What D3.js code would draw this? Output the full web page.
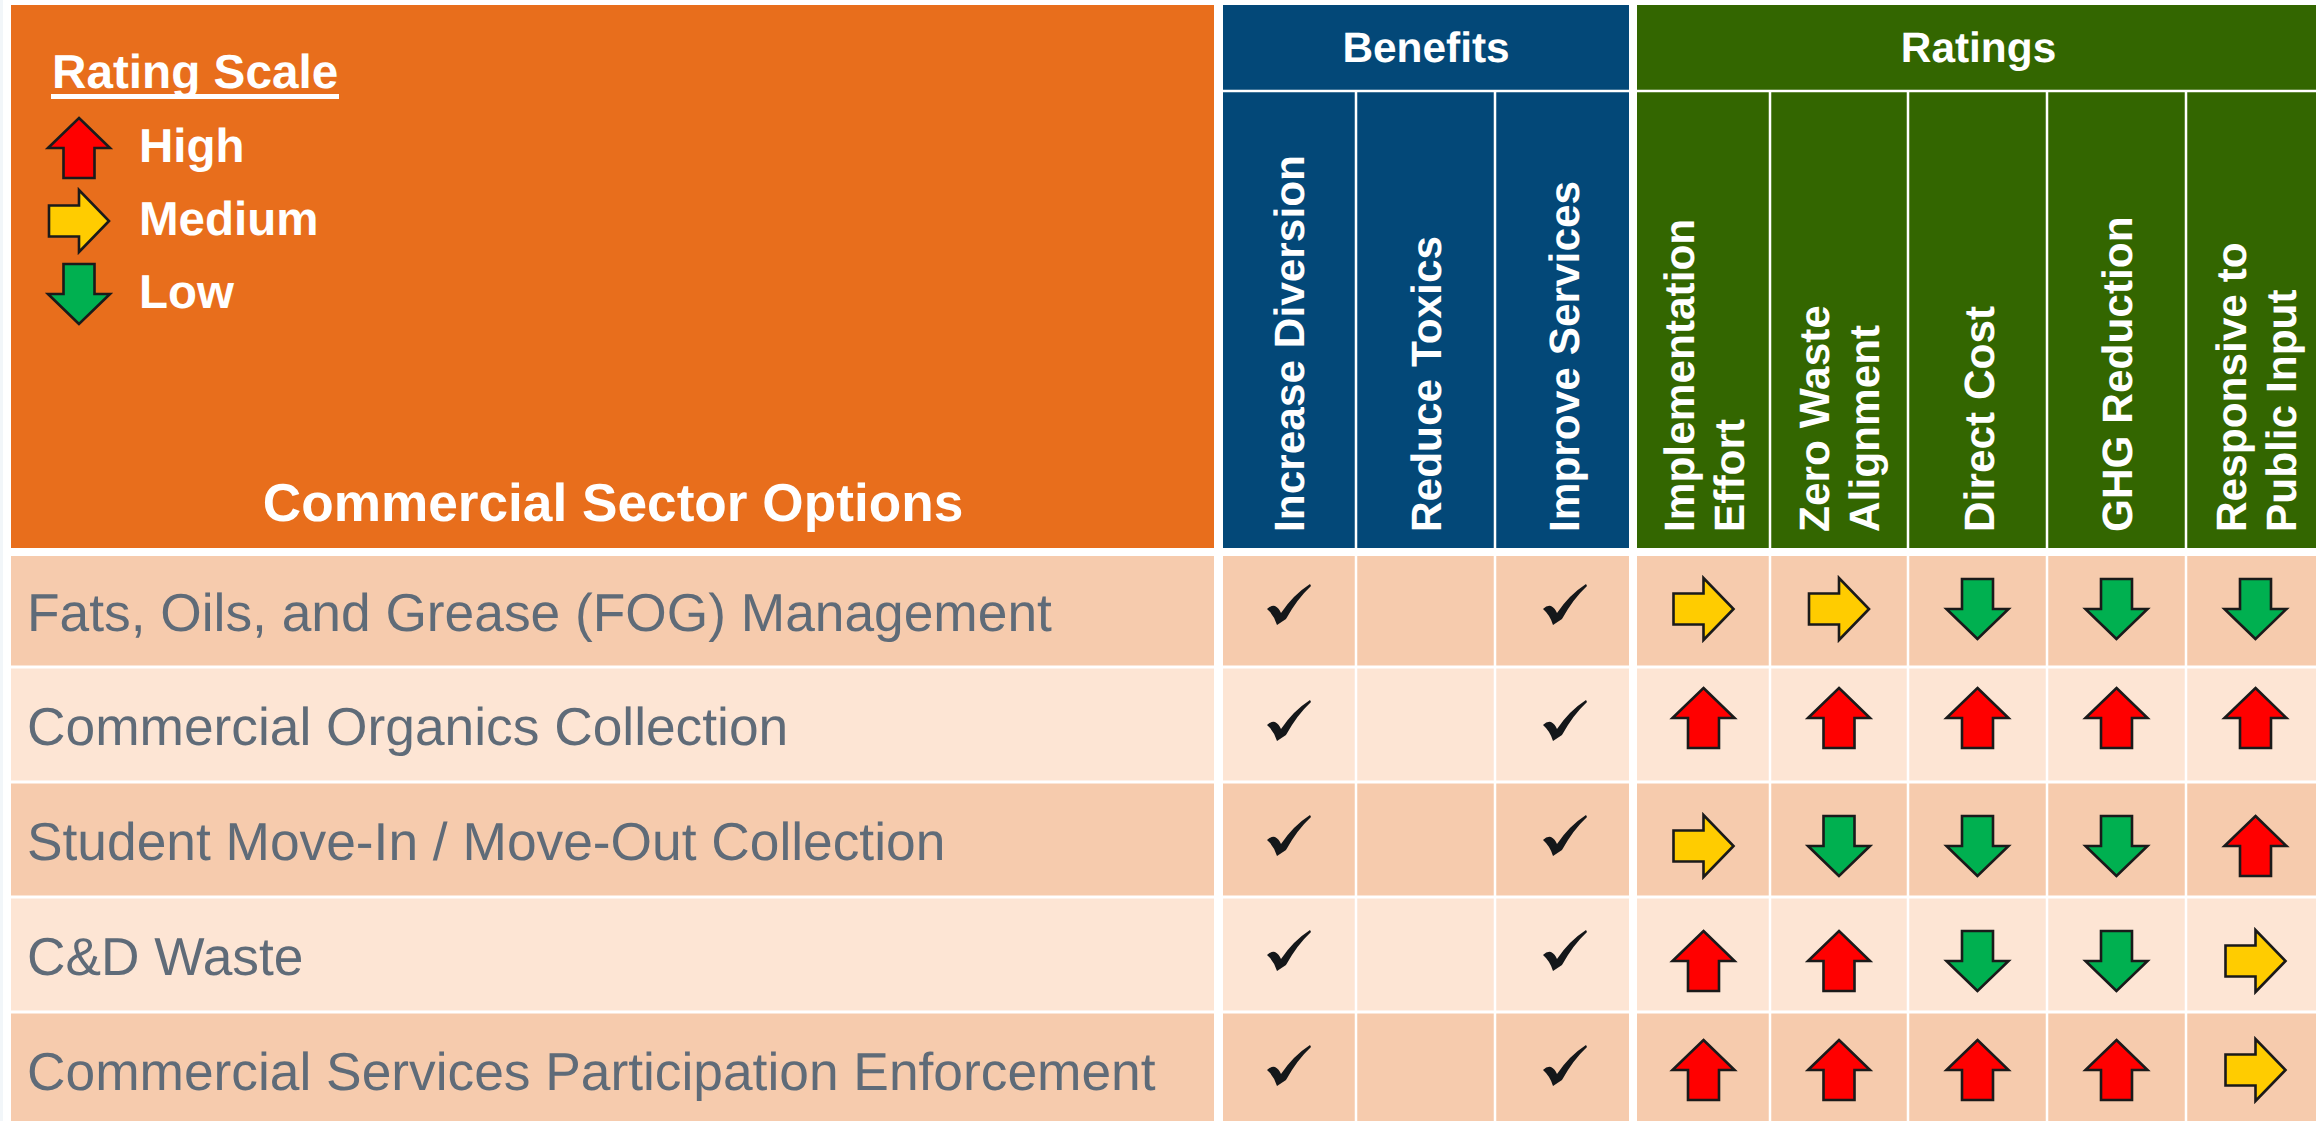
<!DOCTYPE html>
<html>
<head>
<meta charset="utf-8">
<script src="https://cdn.jsdelivr.net/npm/d3@7"></script>
<style>
	html, body { margin: 0; padding: 0; background: #fff; overflow: hidden; }
	svg { display: block; }
	text { font-family: "Liberation Sans", Arial, sans-serif; text-rendering: geometricPrecision; }
</style>
</head>
<body>
<svg id="chart" width="2316" height="1121"></svg>
<script>
// table content
const options = [
	"Fats, Oils, and Grease (FOG) Management",
	"Commercial Organics Collection",
	"Student Move-In / Move-Out Collection",
	"C&D Waste",
	"Commercial Services Participation Enforcement",
];
const benefitColumns = [["Increase Diversion"], ["Reduce Toxics"], ["Improve Services"]];
const ratingColumns = [
	["Implementation", "Effort"],
	["Zero Waste", "Alignment"],
	["Direct Cost"],
	["GHG Reduction"],
	["Responsive to", "Public Input"],
];
const benefitChecks = [
	[1, 0, 1],
	[1, 0, 1],
	[1, 0, 1],
	[1, 0, 1],
	[1, 0, 1],
];
const ratings = [
	["Medium", "Medium", "Low", "Low", "Low"],
	["High", "High", "High", "High", "High"],
	["Medium", "Low", "Low", "Low", "High"],
	["High", "High", "Low", "Low", "Medium"],
	["High", "High", "High", "High", "Medium"],
];
const scaleLevels = ["High", "Medium", "Low"];

// layout
const benefitEdges = [1223, 1356, 1495, 1629];
const ratingEdges = [1637, 1770, 1908, 2047, 2186, 2325];
const rowEdges = [556, 667, 782, 897, 1012, 1127];
const arrowRowY = [609, 718, 846, 961, 1070];
const checkRowY = [605, 721, 836, 951, 1066];
const rowLabelBaseline = [631, 745, 860, 975, 1090];
const checkColX = [1289, 1356, 1565];
const headerNudge = [-1, 0, 2, 0, 0, 1, 0, 0];

const orange = "#e86e1c";
const blue = "#034878";
const green = "#336600";
const rowDark = "#f6cbad";
const rowLight = "#fde5d4";
const levelColor = d3.scaleOrdinal(scaleLevels, ["#ff0000", "#ffcc00", "#00b050"]);

const svg = d3.select("#chart");

const colIndex = d3.range(benefitColumns.length + ratingColumns.length);
const rowIndex = d3.range(options.length);
const colLeft = benefitEdges.slice(0, 3).concat(ratingEdges.slice(0, 5));
const colRight = benefitEdges.slice(1).concat(ratingEdges.slice(1));
const x0 = d3.scaleOrdinal(colIndex, colLeft);
const x1 = d3.scaleOrdinal(colIndex, colRight);
const xMid = (c) => (x0(c) + x1(c)) / 2;
const yTop = d3.scaleOrdinal(rowIndex, rowEdges.slice(0, -1));
const yBottom = d3.scaleOrdinal(rowIndex, rowEdges.slice(1));
const yArrow = d3.scaleOrdinal(rowIndex, arrowRowY);
const yCheck = d3.scaleOrdinal(rowIndex, checkRowY);
const yLabel = d3.scaleOrdinal(rowIndex, rowLabelBaseline);
const xCheck = d3.scaleOrdinal(d3.range(3), checkColX);

// arrow pointing up, about 62 wide and 60 tall, centred on 0,0
const arrowPath = "M0,-30 L31,0 L15.5,0 L15.5,30 L-15.5,30 L-15.5,0 L-31,0 Z";
const arrowTurn = { High: 0, Medium: 90, Low: 180 };

const drawArrow = (g, level, x, y) => {
	g.append("path")
		.attr("d", arrowPath)
		.attr("transform", `translate(${x},${y}) rotate(${arrowTurn[level]})`)
		.attr("fill", levelColor(level))
		.attr("stroke", "#1a1a1a")
		.attr("stroke-width", 2.6)
		.attr("stroke-linejoin", "miter");
};

// faint strip down the left edge of the slide
svg.append("rect").attr("x", 0).attr("y", 0).attr("width", 3).attr("height", 1121).attr("fill", "#f2f6f9");

// header blocks
svg.append("rect").attr("x", 11).attr("y", 5).attr("width", 1203).attr("height", 543).attr("fill", orange);
svg.append("rect").attr("x", benefitEdges[0]).attr("y", 5)
	.attr("width", benefitEdges[3] - benefitEdges[0]).attr("height", 543).attr("fill", blue);
svg.append("rect").attr("x", ratingEdges[0]).attr("y", 5)
	.attr("width", 2316 - ratingEdges[0]).attr("height", 543).attr("fill", green);

const whiteBold = (x, y, size, str, anchor) =>
	svg.append("text")
		.attr("x", x)
		.attr("y", y)
		.attr("fill", "#fff")
		.attr("font-weight", "bold")
		.attr("font-size", size)
		.attr("text-anchor", anchor || "start")
		.text(str);

whiteBold((benefitEdges[0] + benefitEdges[3]) / 2, 62, 42.4, "Benefits", "middle");
whiteBold((ratingEdges[0] + 2316) / 2 + 2, 62, 42.4, "Ratings", "middle");
whiteBold(613, 521, 53.2, "Commercial Sector Options", "middle");

// legend
whiteBold(52, 88, 47.7, "Rating Scale");
svg.append("rect").attr("x", 51).attr("y", 94).attr("width", 288).attr("height", 5).attr("fill", "#fff");
const legendY = d3.scalePoint(scaleLevels, [148, 294]);
scaleLevels.forEach((level) => {
	drawArrow(svg, level, 79, legendY(level));
	whiteBold(139, legendY(level) + 14, 47.5, level);
});

// rotated column headers
const columns = benefitColumns.concat(ratingColumns);
columns.forEach((lines, c) => {
	const lineGap = 50;
	lines.forEach((line, i) => {
		const offset = (i - (lines.length - 1) / 2) * lineGap;
		svg.append("text")
			.attr("transform", `translate(${xMid(c) + offset + 15 + headerNudge[c]},532) rotate(-90)`)
			.attr("fill", "#fff")
			.attr("font-weight", "bold")
			.attr("font-size", 42.4)
			.text(line);
	});
});

// rows
rowIndex.forEach((r) => {
	const fill = r % 2 === 0 ? rowDark : rowLight;
	const h = yBottom(r) - yTop(r);
	svg.append("rect").attr("x", 11).attr("y", yTop(r)).attr("width", 1203).attr("height", h).attr("fill", fill);
	svg.append("rect").attr("x", benefitEdges[0]).attr("y", yTop(r))
		.attr("width", benefitEdges[3] - benefitEdges[0]).attr("height", h).attr("fill", fill);
	svg.append("rect").attr("x", ratingEdges[0]).attr("y", yTop(r))
		.attr("width", 2316 - ratingEdges[0]).attr("height", h).attr("fill", fill);

	svg.append("text")
		.attr("x", 27)
		.attr("y", yLabel(r))
		.attr("fill", "#5f6b78")
		.attr("font-size", 53.3)
		.text(options[r]);
});

// white rules
const rule = (x1v, y1v, x2v, y2v, w) =>
	svg.append("line")
		.attr("x1", x1v).attr("y1", y1v).attr("x2", x2v).attr("y2", y2v)
		.attr("stroke", "#fff").attr("stroke-width", w);

rule(benefitEdges[0], 91, benefitEdges[3], 91, 2.5);
rule(ratingEdges[0], 91, 2316, 91, 2.5);
colLeft.forEach((x) => {
	if (x !== benefitEdges[0] && x !== ratingEdges[0]) rule(x, 92, x, 1121, 2.5);
});
rowEdges.slice(1, -1).forEach((y) => rule(3, y, 2316, y, 3));

// checks
const checkPath =
	"M-22,4 Q-18,0 -14,1 Q-10,3 -8,8 Q4,-10 21,-21 L22,-19 Q8,-6 -3,14 L-12,20 Q-15,10 -22,4 Z";
benefitChecks.forEach((row, r) => {
	row.forEach((v, c) => {
		if (!v) return;
		svg.append("path")
			.attr("d", checkPath)
			.attr("transform", `translate(${xCheck(c)},${yCheck(r)})`)
			.attr("fill", "#14171a");
	});
});

// rating arrows
ratings.forEach((row, r) => {
	row.forEach((level, i) => {
		drawArrow(svg, level, xMid(i + benefitColumns.length), yArrow(r));
	});
});
</script>
</body>
</html>
